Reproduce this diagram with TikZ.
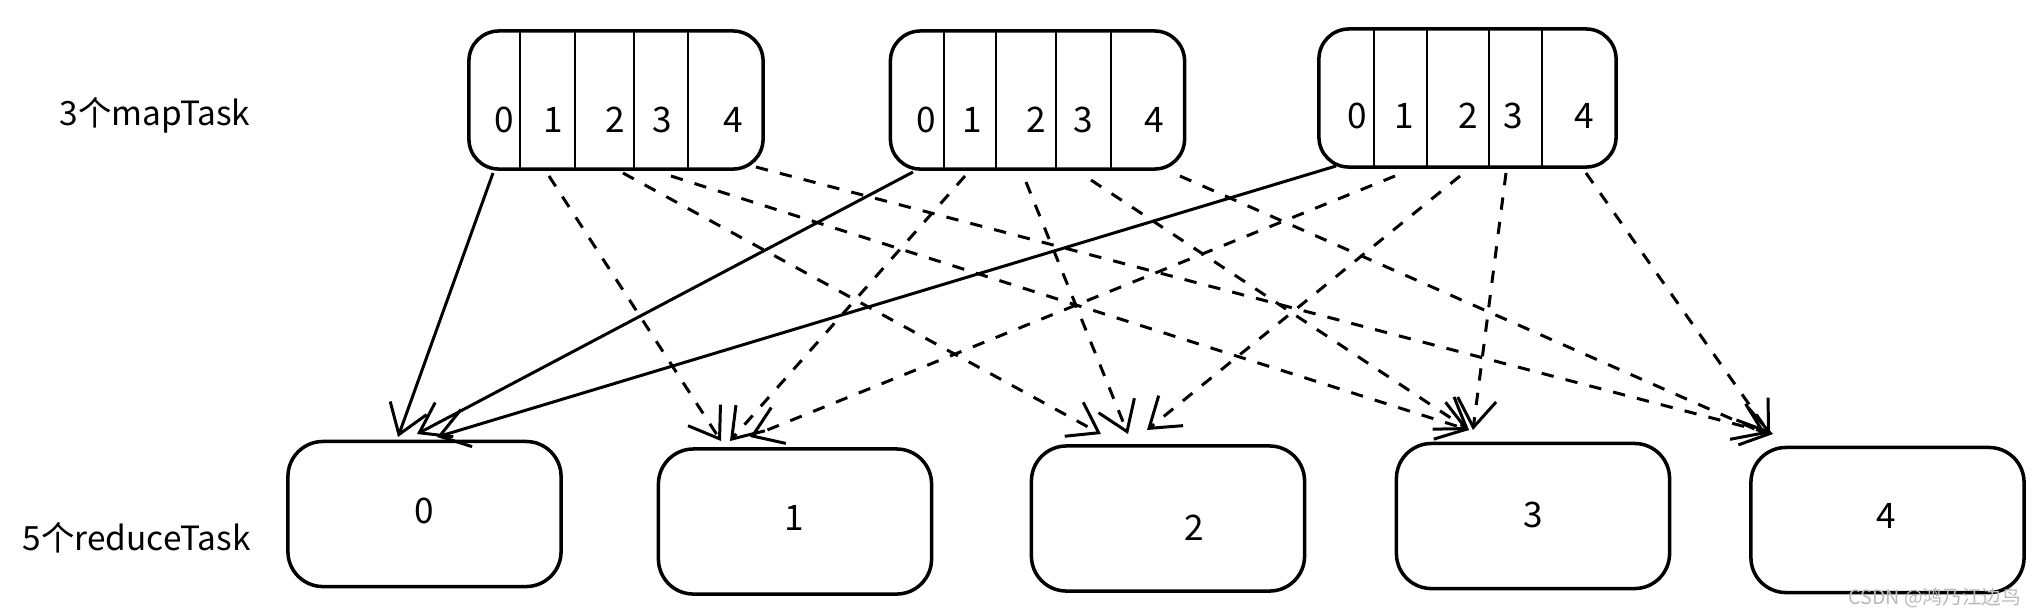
\documentclass[tikz,border=0pt]{standalone}
\usepackage{fontspec}
\setmainfont{Noto Sans CJK SC}
\usetikzlibrary{arrows.meta,calc}
\begin{document}
\begin{tikzpicture}[x=0.01cm,y=-0.01cm,
  box/.style={draw, line width=1pt, rounded corners=0.3cm, inner sep=0pt},
  mapbox/.style={box, minimum width=2.94cm, minimum height=1.38cm},
  redbox/.style={box, minimum width=2.73cm, minimum height=1.45cm, rounded corners=0.35cm},
  num/.style={font=\fontsize{10}{12}\selectfont},
  lbl/.style={font=\fontsize{9.5}{11}\selectfont, anchor=west, inner sep=0pt},
  link/.style={line width=0.85pt, -{Straight Barb[length=8pt,width=11pt,line width=0.85pt]}},
  solidlink/.style={link},
  dashlink/.style={link, dash pattern=on 3.5pt off 3.5pt},
  divider/.style={line width=0.8pt}
]
\useasboundingbox (0,0) rectangle (2044,614);

% labels
\node[lbl] (lmap) at (59,115) {3个mapTask};
\node[lbl] (lred) at (22,538) {5个reduceTask};

% map boxes
\node[mapbox] (m1) at (616,100) {};
\node[mapbox] (m2) at (1037.5,100) {};
\node[mapbox, minimum width=2.97cm] (m3) at (1467.5,98) {};

\foreach \m/\xs in {m1/{520,575,634,688}, m2/{944,996,1056,1111}, m3/{1374,1427,1489,1542}}{
  \foreach \x in \xs {
    \draw[divider] (\x,0 |- \m.north) -- (\x,0 |- \m.south);
  }
}

\foreach \m/\y/\xs in {m1/120/{504,553,615,662,733}, m2/120/{926,972,1036,1083,1154}, m3/116/{1357,1404,1468,1513,1584}}{
  \foreach \x [count=\i from 0] in \xs {
    \node[num] (\m n\i) at (\x,\y) {\i};
  }
}

% reduce boxes
\node[redbox] (r0) at (424.5,514) {};
\node[redbox] (r1) at (795,521.5) {};
\node[redbox] (r2) at (1168,518.5) {};
\node[redbox] (r3) at (1533,516) {};
\node[redbox] (r4) at (1887.5,520) {};

\node[num] (r0n) at (424,511) {0};
\node[num] (r1n) at (794,518) {1};
\node[num] (r2n) at (1194,528) {2};
\node[num] (r3n) at (1533,515) {3};
\node[num] (r4n) at (1886,516) {4};

% start points
\coordinate (s10) at (493,173);
\coordinate (s11) at (549,176);
\coordinate (s12) at (623,173);
\coordinate (s13) at (671,176);
\coordinate (s14) at (756,167);
\coordinate (s20) at (913,172);
\coordinate (s21) at (965,176);
\coordinate (s22) at (1026,182);
\coordinate (s23) at (1091,180);
\coordinate (s24) at (1180,176);
\coordinate (s30) at (1336,166);
\coordinate (s31) at (1395,176);
\coordinate (s32) at (1460,176);
\coordinate (s33) at (1506,173);
\coordinate (s34) at (1586,173);
% end points
\coordinate (e10) at (398,437);
\coordinate (e20) at (417,434);
\coordinate (e30) at (437,437);
\coordinate (e11) at (721,441);
\coordinate (e21) at (730,441);
\coordinate (e31) at (750,437);
\coordinate (e12) at (1101,434);
\coordinate (e22) at (1128,434);
\coordinate (e32) at (1147,430);
\coordinate (e13) at (1469,430);
\coordinate (e23) at (1469,430);
\coordinate (e33) at (1473,430);
\coordinate (e14) at (1773,434);
\coordinate (e24) at (1766,434);
\coordinate (e34) at (1770,434);

\foreach \i in {1,2,3}{
  \draw[solidlink] (s\i0) -- (e\i0);
  \foreach \j in {1,2,3,4}{
    \draw[dashlink] (s\i\j) -- (e\i\j);
  }
}

\node[text=gray!55, font=\fontsize{5.6}{7}\selectfont, anchor=east, inner sep=0pt] (wm) at (2022,598) {CSDN @鸿乃江边鸟};
\end{tikzpicture}
\end{document}
